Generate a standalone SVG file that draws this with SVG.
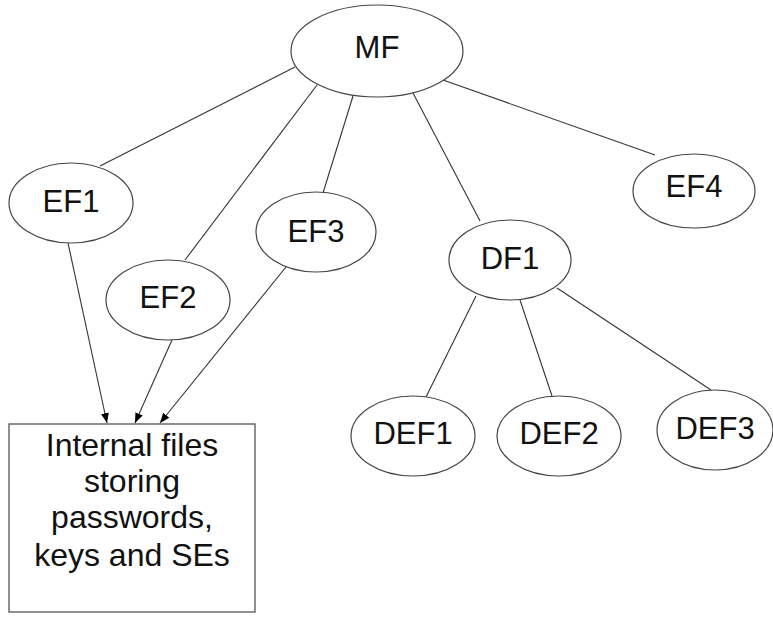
<svg xmlns="http://www.w3.org/2000/svg" width="773" height="617" viewBox="0 0 773 617">
<defs>
<marker id="arr" viewBox="0 0 10 8" refX="10" refY="4" markerWidth="10" markerHeight="8" markerUnits="userSpaceOnUse" orient="auto">
<path d="M0,0 L10,4 L0,8 Z" fill="#000"/>
</marker>
</defs>
<style>
.n{fill:#fff;stroke:#444;stroke-width:1.2}
.t{font-family:"Liberation Sans",Arial,sans-serif;font-size:31px;fill:#111;text-anchor:middle}
.b{font-size:32px}
.c{stroke:#333;stroke-width:1.1;fill:none}
</style>
<rect width="773" height="617" fill="#fff"/>
<g id="connectors">
<line class="c" x1="295" y1="67" x2="100" y2="166"/>
<line class="c" x1="317" y1="85" x2="185" y2="260"/>
<line class="c" x1="353" y1="96" x2="323" y2="193"/>
<line class="c" x1="413" y1="93" x2="480" y2="221"/>
<line class="c" x1="443" y1="80" x2="655" y2="155"/>
<line class="c" x1="476" y1="296" x2="426" y2="397"/>
<line class="c" x1="520" y1="300" x2="552" y2="396"/>
<line class="c" x1="557" y1="288" x2="711" y2="390"/>
<line class="c" x1="68" y1="243" x2="107" y2="423" marker-end="url(#arr)"/>
<line class="c" x1="172" y1="340" x2="135" y2="423" marker-end="url(#arr)"/>
<line class="c" x1="290" y1="262" x2="160" y2="423" marker-end="url(#arr)"/>
</g>
<g id="MF"><ellipse class="n" cx="377" cy="51" rx="86" ry="46"/><text class="t" x="377" y="58">MF</text></g>
<g id="EF1"><ellipse class="n" cx="71" cy="203" rx="62" ry="40"/><text class="t" x="71" y="212">EF1</text></g>
<g id="EF2"><ellipse class="n" cx="168" cy="300" rx="62" ry="40"/><text class="t" x="168" y="308">EF2</text></g>
<g id="EF3"><ellipse class="n" cx="316" cy="232" rx="60" ry="40"/><text class="t" x="316" y="242">EF3</text></g>
<g id="EF4"><ellipse class="n" cx="694" cy="191" rx="61" ry="37"/><text class="t" x="694" y="197">EF4</text></g>
<g id="DF1"><ellipse class="n" cx="510" cy="260" rx="61" ry="40"/><text class="t" x="510" y="269">DF1</text></g>
<g id="DEF1"><ellipse class="n" cx="413" cy="436" rx="62" ry="40"/><text class="t" x="413" y="444">DEF1</text></g>
<g id="DEF2"><ellipse class="n" cx="559" cy="436" rx="62" ry="40"/><text class="t" x="559" y="444">DEF2</text></g>
<g id="DEF3"><ellipse class="n" cx="715" cy="430" rx="58" ry="40"/><text class="t" x="715" y="439">DEF3</text></g>
<g id="box"><rect class="n" x="9" y="424" width="246" height="188"/>
<text class="t b" x="132" y="456">Internal files</text>
<text class="t b" x="132" y="492">storing</text>
<text class="t b" x="132" y="528">passwords,</text>
<text class="t b" x="132" y="566">keys and SEs</text>
</g>
</svg>
